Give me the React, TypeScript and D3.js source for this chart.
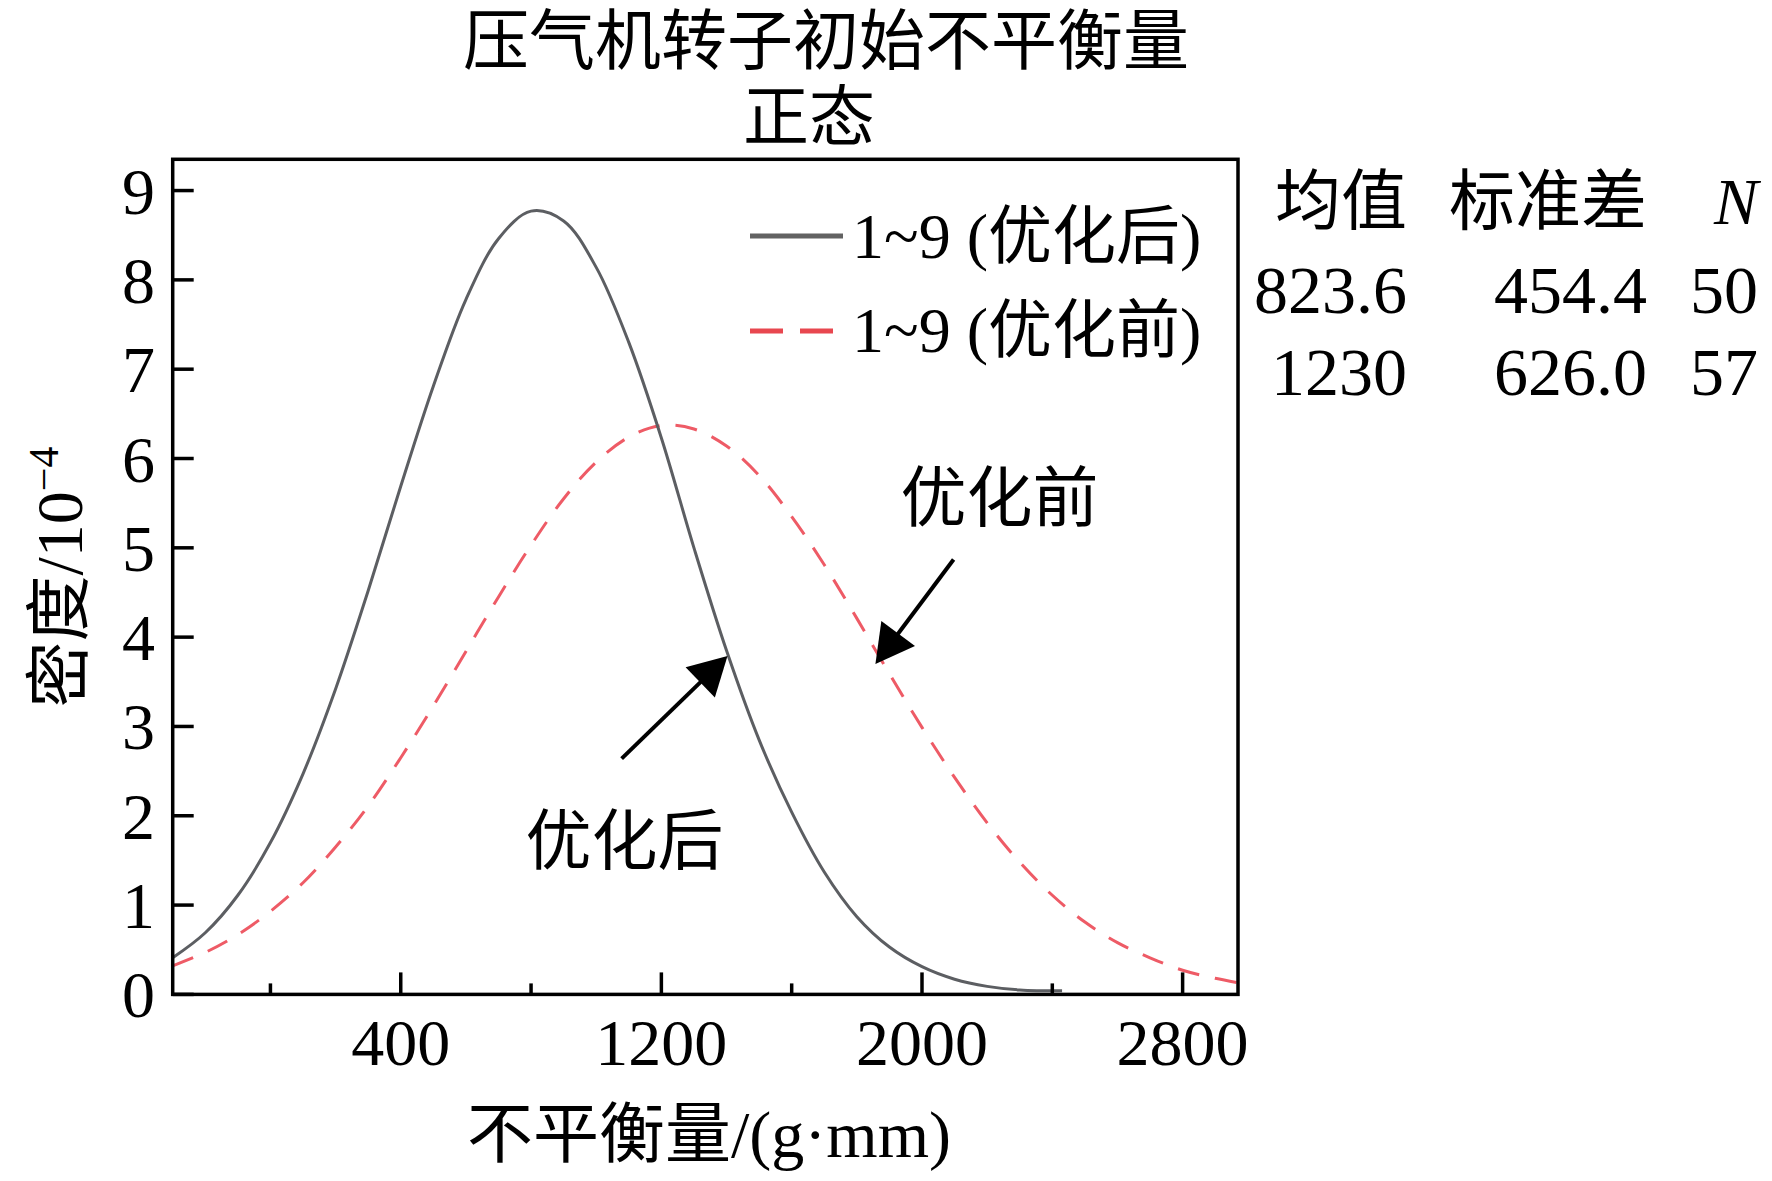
import React, { useEffect, useRef } from 'react';
import * as d3 from 'd3';

// 优化后 (after optimisation) density curve
const afterX = [-300, -200, -100, 0, 100, 200, 300, 400, 500, 600, 700, 800, 900, 1000, 1100, 1200, 1300, 1400, 1500, 1600, 1700, 1800, 1900, 2000, 2100, 2200, 2300, 2430];
const afterDensity = [0.41, 0.69, 1.11, 1.70, 2.47, 3.42, 4.52, 5.69, 6.81, 7.78, 8.46, 8.77, 8.66, 8.14, 7.30, 6.23, 5.00, 3.85, 2.85, 2.04, 1.37, 0.87, 0.53, 0.31, 0.17, 0.09, 0.05, 0.04];

// 优化前 (before optimisation) density curve
const beforeX = [-300, -200, -100, 0, 100, 200, 300, 400, 500, 600, 700, 800, 900, 1000, 1100, 1200, 1300, 1400, 1500, 1600, 1700, 1800, 1900, 2000, 2100, 2200, 2300, 2400, 2500, 2600, 2700, 2800, 2900, 2970];
const beforeDensity = [0.32, 0.47, 0.67, 0.93, 1.25, 1.65, 2.11, 2.65, 3.23, 3.84, 4.45, 5.03, 5.55, 5.96, 6.24, 6.37, 6.33, 6.14, 5.81, 5.35, 4.81, 4.21, 3.59, 2.99, 2.43, 1.92, 1.48, 1.11, 0.81, 0.58, 0.41, 0.27, 0.18, 0.13];

const yTicks = [0, 1, 2, 3, 4, 5, 6, 7, 8, 9];
const xMajorTicks = [400, 1200, 2000, 2800];
const xMinorTicks = [0, 800, 1600, 2400];

const titleLines = ['压气机转子初始不平衡量', '正态'];
const legendLabels = ['1~9 (优化后)', '1~9 (优化前)'];
const statHeaders = ['均值', '标准差', 'N'];
const statRows = [
  ['823.6', '454.4', '50'],
  ['1230', '626.0', '57'],
];

const FONT = '"Liberation Serif", "Times New Roman", "Noto Sans CJK SC", serif';

function App() {
  const ref = useRef<SVGSVGElement>(null);

  useEffect(() => {
    const svg = d3.select(ref.current);
    svg.selectAll('*').remove();

    const left = 172.7, right = 1238, top = 159.3, bottom = 994.4;

    const x = d3.scaleLinear().domain([-300, 2970]).range([left, right]);
    const y = d3.scaleLinear().domain([0, 9.35]).range([bottom, top]);

    // curves
    const line = d3.line<[number, number]>()
      .x(d => x(d[0]))
      .y(d => y(d[1]))
      .curve(d3.curveCatmullRom.alpha(0.5));

    const afterPts = afterX.map((v, i) => [v, afterDensity[i]] as [number, number]);
    const beforePts = beforeX.map((v, i) => [v, beforeDensity[i]] as [number, number]);

    svg.append('path')
      .attr('d', line(beforePts))
      .attr('fill', 'none')
      .attr('stroke', '#ee5b66')
      .attr('stroke-width', 3)
      .attr('stroke-dasharray', '22 16');

    svg.append('path')
      .attr('d', line(afterPts))
      .attr('fill', 'none')
      .attr('stroke', '#5c5e62')
      .attr('stroke-width', 3);

    // frame
    svg.append('rect')
      .attr('x', left).attr('y', top)
      .attr('width', right - left).attr('height', bottom - top)
      .attr('fill', 'none')
      .attr('stroke', '#000')
      .attr('stroke-width', 3.5);

    // y ticks
    yTicks.forEach(t => {
      svg.append('line')
        .attr('x1', left).attr('x2', left + 21)
        .attr('y1', y(t)).attr('y2', y(t))
        .attr('stroke', '#000').attr('stroke-width', 3.5);
      svg.append('text')
        .attr('x', 155).attr('y', y(t) + 23)
        .attr('text-anchor', 'end')
        .attr('font-family', FONT).attr('font-size', 66)
        .text(t);
    });

    // x ticks
    xMajorTicks.forEach(t => {
      svg.append('line')
        .attr('x1', x(t)).attr('x2', x(t))
        .attr('y1', bottom).attr('y2', bottom - 22)
        .attr('stroke', '#000').attr('stroke-width', 3.5);
      svg.append('text')
        .attr('x', x(t)).attr('y', 1065)
        .attr('text-anchor', 'middle')
        .attr('font-family', FONT).attr('font-size', 66)
        .text(t);
    });
    xMinorTicks.forEach(t => {
      svg.append('line')
        .attr('x1', x(t)).attr('x2', x(t))
        .attr('y1', bottom).attr('y2', bottom - 11)
        .attr('stroke', '#000').attr('stroke-width', 3.5);
    });

    // axis titles
    svg.append('text')
      .attr('x', 709).attr('y', 1157)
      .attr('text-anchor', 'middle')
      .attr('font-family', FONT).attr('font-size', 66)
      .text('不平衡量/(g·mm)');

    const yt = svg.append('text')
      .attr('transform', 'translate(82,577) rotate(-90)')
      .attr('text-anchor', 'middle')
      .attr('font-family', FONT).attr('font-size', 66);
    yt.append('tspan').text('密度/10');
    yt.append('tspan').attr('font-size', 42).attr('dy', -24).text('−4');

    // title
    svg.append('text')
      .attr('x', 826).attr('y', 64)
      .attr('text-anchor', 'middle')
      .attr('font-family', FONT).attr('font-size', 66)
      .text(titleLines[0]);
    svg.append('text')
      .attr('x', 809).attr('y', 140)
      .attr('text-anchor', 'middle')
      .attr('font-family', FONT).attr('font-size', 66)
      .text(titleLines[1]);

    // legend
    svg.append('line')
      .attr('x1', 750).attr('x2', 843)
      .attr('y1', 236).attr('y2', 236)
      .attr('stroke', '#626262').attr('stroke-width', 5);
    svg.append('line')
      .attr('x1', 750).attr('x2', 835)
      .attr('y1', 331).attr('y2', 331)
      .attr('stroke', '#e8474f').attr('stroke-width', 5)
      .attr('stroke-dasharray', '33 17');
    legendLabels.forEach((lab, i) => {
      svg.append('text')
        .attr('x', 852).attr('y', 258 + i * 94)
        .attr('font-family', FONT).attr('font-size', 64)
        .text(lab);
    });

    // stats table
    const colRight = [1407, 1647, 1758];
    statHeaders.forEach((h, i) => {
      svg.append('text')
        .attr('x', colRight[i]).attr('y', 224)
        .attr('text-anchor', 'end')
        .attr('font-family', FONT).attr('font-size', 66)
        .attr('font-style', h === 'N' ? 'italic' : 'normal')
        .text(h);
    });
    statRows.forEach((row, r) => {
      row.forEach((v, i) => {
        svg.append('text')
          .attr('x', colRight[i]).attr('y', 313 + r * 82)
          .attr('text-anchor', 'end')
          .attr('font-family', FONT).attr('font-size', 68)
          .text(v);
      });
    });

    // annotations with arrows
    const arrow = (x0: number, y0: number, x1: number, y1: number) => {
      const ax = x(x0), ay = y(y0), bx = x(x1), by = y(y1);
      const dx = bx - ax, dy = by - ay;
      const len = Math.hypot(dx, dy);
      const ux = dx / len, uy = dy / len;
      const hl = 38, hw = 21;
      const baseX = bx - ux * hl, baseY = by - uy * hl;
      svg.append('line')
        .attr('x1', ax).attr('y1', ay)
        .attr('x2', baseX + ux * 4).attr('y2', baseY + uy * 4)
        .attr('stroke', '#000').attr('stroke-width', 4);
      svg.append('path')
        .attr('d', `M${bx},${by}L${baseX - uy * hw},${baseY + ux * hw}L${baseX + uy * hw},${baseY - ux * hw}Z`)
        .attr('fill', '#000');
    };

    arrow(2097, 4.87, 1857, 3.70);
    arrow(1078, 2.64, 1403, 3.79);

    svg.append('text')
      .attr('x', x(1934)).attr('y', y(5.3))
      .attr('font-family', FONT).attr('font-size', 66)
      .text('优化前');
    svg.append('text')
      .attr('x', x(783)).attr('y', y(1.46))
      .attr('font-family', FONT).attr('font-size', 66)
      .text('优化后');
  }, []);

  return (
    <svg
      ref={ref}
      width={1772}
      height={1181}
      style={{ position: 'absolute', left: 0, top: 0, background: '#fff' }}
    />
  );
}

export default App;
